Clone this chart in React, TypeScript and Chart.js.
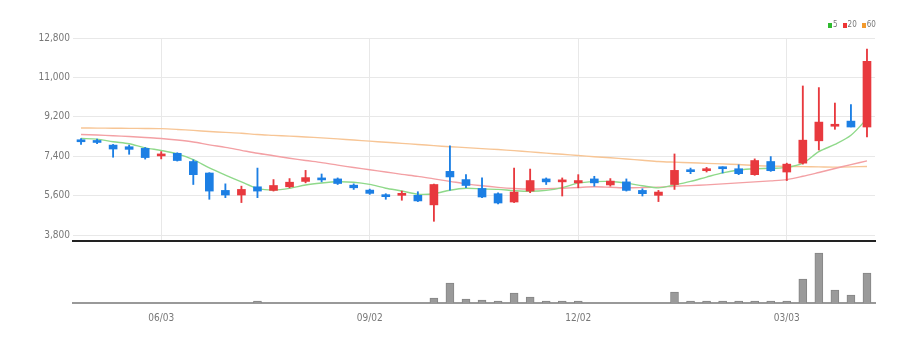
import React, { useEffect, useRef } from 'react';
import { Chart, registerables } from 'chart.js';

Chart.register(...registerables);

// ---- data ----
const dates = [
  '04/29', '05/06', '05/13', '05/20', '05/27', '06/03', '06/10', '06/17', '06/24', '07/01',
  '07/08', '07/15', '07/22', '07/29', '08/05', '08/12', '08/19', '08/26', '09/02', '09/09',
  '09/16', '09/23', '09/30', '10/07', '10/14', '10/21', '10/28', '11/04', '11/11', '11/18',
  '11/25', '12/02', '12/09', '12/16', '12/23', '12/30', '01/06', '01/13', '01/20', '01/27',
  '02/03', '02/10', '02/17', '02/24', '03/03', '03/10', '03/17', '03/24', '03/31', '04/07',
];
const tickDates = ['06/03', '09/02', '12/02', '03/03'];
const priceTicks = [3800, 5600, 7400, 9200, 11000, 12800];

const opens = [
  8134, 8120, 7910, 7835, 7760, 7415, 7535, 7160, 6635, 5840,
  5630, 6005, 5840, 6005, 6250, 6410, 6365, 6080, 5855, 5630,
  5615, 5615, 5180, 6710, 6335, 5930, 5690, 5310, 5810, 6365,
  6230, 6185, 6365, 6090, 6230, 5840, 5615, 6110, 6755, 6740,
  6905, 6830, 6560, 7160, 6680, 7085, 8105, 8770, 9005, 8735,
];
const highs = [
  8210, 8180, 7940, 7910, 7800, 7610, 7560, 7235, 6650, 6140,
  6035, 6860, 6335, 6380, 6755, 6590, 6410, 6140, 5900, 5690,
  5810, 5780, 6130, 7880, 6560, 6410, 5735, 6860, 6815, 6410,
  6410, 6560, 6485, 6380, 6365, 5915, 5840, 7505, 6860, 6890,
  6920, 7010, 7280, 7385, 7085, 10610, 10535, 9830, 9755, 12290,
];
const lows = [
  7940, 7970, 7355, 7490, 7270, 7280, 7180, 6110, 5435, 5510,
  5285, 5510, 5810, 5960, 6185, 6230, 6110, 5885, 5660, 5435,
  5390, 5330, 4430, 5855, 5960, 5510, 5220, 5285, 5735, 6110,
  5585, 5960, 6035, 6035, 5810, 5585, 5330, 5885, 6605, 6680,
  6635, 6560, 6530, 6710, 6290, 7040, 7685, 8630, 8735, 8285,
];
const closes = [
  8062, 8030, 7730, 7715, 7340, 7460, 7205, 6560, 5810, 5630,
  5885, 5810, 6065, 6215, 6425, 6320, 6155, 5960, 5705, 5555,
  5705, 5360, 6110, 6455, 6065, 5540, 5265, 5765, 6290, 6230,
  6290, 6290, 6185, 6265, 5840, 5690, 5765, 6755, 6695, 6830,
  6830, 6605, 7205, 6740, 7040, 8135, 8960, 8860, 8735, 11735,
];

const ma5 = [
  8210, 8180, 8060, 7970, 7785, 7665, 7510, 7250, 6870, 6540,
  6230, 5935, 5860, 5935, 6090, 6180, 6236, 6215, 6113, 5939,
  5816, 5670, 5690, 5850, 5939, 5906, 5887, 5830, 5800, 5840,
  5968, 6173, 6240, 6250, 6174, 6054, 5955, 6090, 6250, 6450,
  6640, 6770, 6830, 6850, 6890, 7085, 7610, 7940, 8360, 9110,
];
const ma20 = [
  8390, 8370, 8335, 8300, 8255, 8210, 8140, 8050, 7920, 7805,
  7670, 7535, 7425, 7310, 7205, 7110, 6995, 6885, 6785, 6680,
  6575, 6480, 6365, 6255, 6140, 6050, 5980, 5930, 5905, 5915,
  5940, 5975, 6005, 5985, 5960, 5970, 5990, 6030, 6060, 6095,
  6140, 6185, 6230, 6275, 6335, 6485, 6660, 6840, 7020, 7190,
];
const ma60 = [
  8690, 8685, 8680, 8675, 8670, 8660, 8625, 8580, 8530, 8490,
  8450, 8390, 8355, 8320, 8280, 8240, 8195, 8140, 8090, 8040,
  7990, 7940, 7885, 7835, 7795, 7750, 7705, 7655, 7600, 7545,
  7490, 7435, 7380, 7330, 7275, 7220, 7160, 7130, 7105, 7075,
  7050, 7020, 6975, 6950, 6935, 6925, 6915, 6905, 6915, 6935,
];
const volumes = [
  null, null, null, null, null, null, null, null, null, null,
  null, 15, null, null, null, null, null, null, null, null,
  null, null, 91, 364, 73, 55, 15, 182, 109, 15,
  15, 15, null, null, null, null, null, 200, 15, 15,
  15, 15, 15, 15, 15, 436, 909, 236, 145, 545,
];

const FONT = "'Liberation Sans Narrow', 'DejaVu Sans Condensed', 'Roboto', sans-serif";
const RED = '#e8393e';
const BLUE = '#1c7fe4';

const legendItems = [
  { label: '5', color: '#2fba2f' },
  { label: '20', color: '#ee3434' },
  { label: '60', color: '#f39a2c' },
];

export default function App() {
  const topRef = useRef<HTMLCanvasElement>(null);
  const volRef = useRef<HTMLCanvasElement>(null);

  useEffect(() => {
    const candleColors = closes.map((c, i) => (c >= opens[i] ? RED : BLUE));
    const isShown = (i: number) => tickDates.includes(dates[i]);

    const top = new Chart(topRef.current as HTMLCanvasElement, {
      type: 'bar',
      data: {
        labels: dates,
        datasets: [
          {
            type: 'bar',
            data: opens.map((o, i) => [Math.min(o, closes[i]), Math.max(o, closes[i])]),
            backgroundColor: candleColors,
            barThickness: 8,
            minBarLength: 2,
            grouped: false,
            order: 0,
          } as any,
          {
            type: 'bar',
            data: lows.map((l, i) => [l, highs[i]]),
            backgroundColor: candleColors,
            barThickness: 1.2,
            grouped: false,
            order: 1,
          } as any,
          {
            type: 'line',
            data: ma5,
            borderColor: '#8fd98a',
            borderWidth: 1.4,
            pointRadius: 0,
            tension: 0.3,
            order: 2,
          } as any,
          {
            type: 'line',
            data: ma20,
            borderColor: '#f3a0a4',
            borderWidth: 1.4,
            pointRadius: 0,
            tension: 0.3,
            order: 3,
          } as any,
          {
            type: 'line',
            data: ma60,
            borderColor: '#f7c595',
            borderWidth: 1.4,
            pointRadius: 0,
            tension: 0.3,
            order: 4,
          } as any,
        ],
      },
      options: {
        animation: false,
        responsive: false,
        maintainAspectRatio: false,
        layout: { padding: { top: 38, right: 47, left: 0, bottom: 0 } },
        plugins: { legend: { display: false }, tooltip: { enabled: false } },
        scales: {
          x: {
            type: 'category',
            offset: true,
            grid: {
              offset: false,
              drawTicks: false,
              color: (c: any) => (isShown(c.index) ? '#e8e8e8' : 'rgba(0,0,0,0)'),
            },
            ticks: { display: false, autoSkip: false },
            border: { display: true, color: '#222', width: 2 },
            afterFit: (s: any) => {
              s.height = 6;
            },
          },
          y: {
            min: 3530,
            max: 12800,
            afterBuildTicks: (s: any) => {
              s.ticks = priceTicks.map((v) => ({ value: v }));
            },
            ticks: {
              callback: (v: any) => Number(v).toLocaleString('en-US'),
              font: { family: FONT, size: 10 },
              color: '#777',
              padding: 3,
            },
            grid: { color: '#e8e8e8', drawTicks: false },
            border: { display: false },
            afterFit: (s: any) => {
              s.width = 73;
            },
          },
        },
      } as any,
    });

    const vol = new Chart(volRef.current as HTMLCanvasElement, {
      type: 'bar',
      data: {
        labels: dates,
        datasets: [
          {
            data: volumes,
            backgroundColor: '#9a9a9a',
            borderColor: '#858585',
            borderWidth: 1,
            barThickness: 8,
            minBarLength: 2,
          } as any,
        ],
      },
      options: {
        animation: false,
        responsive: false,
        maintainAspectRatio: false,
        layout: { padding: { top: 2, right: 47, left: 73, bottom: 0 } },
        plugins: { legend: { display: false }, tooltip: { enabled: false } },
        scales: {
          x: {
            type: 'category',
            offset: true,
            grid: {
              offset: false,
              drawOnChartArea: false,
              drawTicks: true,
              tickLength: 4,
              color: (c: any) => (isShown(c.index) ? '#444' : 'rgba(0,0,0,0)'),
              tickColor: (c: any) => (isShown(c.index) ? '#444' : 'rgba(0,0,0,0)'),
            },
            border: { display: true, color: '#999', width: 2 },
            ticks: {
              autoSkip: false,
              maxRotation: 0,
              callback: (_v: any, i: number) => (isShown(i) ? dates[i] : null),
              font: { family: FONT, size: 10 },
              color: '#777',
              padding: 5,
            },
            afterFit: (s: any) => {
              s.height = 38;
            },
          },
          y: { display: false, min: 0, max: 1000 },
        },
      } as any,
    });

    return () => {
      top.destroy();
      vol.destroy();
    };
  }, []);

  return (
    <div
      style={{
        position: 'fixed',
        left: 0,
        top: 0,
        width: 922,
        height: 341,
        background: '#fff',
        overflow: 'hidden',
      }}
    >
      <canvas
        ref={topRef}
        width={922}
        height={250}
        style={{ position: 'absolute', left: 0, top: 0, width: 922, height: 250 }}
      />
      <canvas
        ref={volRef}
        width={922}
        height={95}
        style={{ position: 'absolute', left: 0, top: 246, width: 922, height: 95 }}
      />
      <div
        style={{
          position: 'absolute',
          left: 828,
          top: 19,
          display: 'flex',
          alignItems: 'center',
          fontFamily: FONT,
          fontSize: 8,
          color: '#777',
          lineHeight: '12px',
        }}
      >
        {legendItems.map((it, i) => (
          <span
            key={it.label}
            style={{ display: 'flex', alignItems: 'center', marginLeft: i === 0 ? 0 : 5 }}
          >
            <span
              style={{
                display: 'inline-block',
                width: 4,
                height: 5,
                background: it.color,
                marginRight: 1,
              }}
            />
            {it.label}
          </span>
        ))}
      </div>
    </div>
  );
}
